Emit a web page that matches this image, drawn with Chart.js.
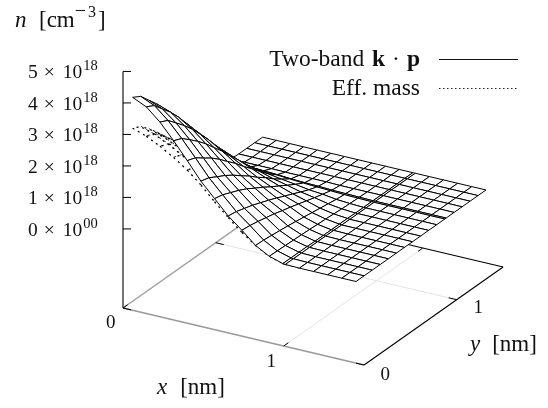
<!DOCTYPE html>
<html>
<head>
<meta charset="utf-8">
<style>
  body { margin: 0; background: #fff; }
  canvas { display: block; }
</style>
<script src="https://cdn.jsdelivr.net/npm/chart.js@4"></script>
</head>
<body>
<canvas id="myChart" width="548" height="408"></canvas>
<script>
// grid lines of the surface, in nm (doubled at the 1 nm interface)
const xNodes = [0.06, 0.145, 0.23, 0.315, 0.40, 0.485, 0.57, 0.655, 0.74, 0.825, 0.91, 0.995, 1.01, 1.098, 1.186, 1.274, 1.362, 1.45];
const yNodes = [0, 0.087, 0.174, 0.261, 0.348, 0.435, 0.522, 0.609, 0.696, 0.783, 0.87, 0.957, 0.972, 1.058, 1.144, 1.23, 1.316, 1.402];

// n in units of 1e18, one row per yNodes entry
const nTwoBand = [
  [4.25, 4.05, 3.67, 3.18, 2.65, 2.10, 1.65, 1.20, 0.85, 0.47, 0.23, 0.10, 0.09, 0.08, 0.08, 0.08, 0.08, 0.08],
  [4.10, 3.91, 3.54, 3.07, 2.56, 2.03, 1.59, 1.16, 0.82, 0.46, 0.22, 0.10, 0.09, 0.08, 0.08, 0.08, 0.08, 0.08],
  [3.80, 3.62, 3.28, 2.85, 2.37, 1.88, 1.48, 1.08, 0.77, 0.43, 0.21, 0.10, 0.09, 0.08, 0.08, 0.08, 0.08, 0.08],
  [3.50, 3.34, 3.02, 2.62, 2.19, 1.74, 1.37, 1.00, 0.71, 0.40, 0.20, 0.10, 0.09, 0.08, 0.08, 0.08, 0.08, 0.08],
  [3.15, 3.00, 2.72, 2.36, 1.97, 1.57, 1.24, 0.90, 0.65, 0.37, 0.19, 0.09, 0.09, 0.08, 0.08, 0.08, 0.08, 0.08],
  [2.75, 2.62, 2.38, 2.06, 1.72, 1.37, 1.08, 0.80, 0.57, 0.33, 0.18, 0.09, 0.09, 0.08, 0.08, 0.08, 0.08, 0.08],
  [2.35, 2.24, 2.03, 1.77, 1.48, 1.18, 0.93, 0.69, 0.50, 0.29, 0.16, 0.09, 0.09, 0.08, 0.08, 0.08, 0.08, 0.08],
  [1.90, 1.81, 1.65, 1.43, 1.20, 0.96, 0.76, 0.57, 0.42, 0.25, 0.15, 0.09, 0.08, 0.08, 0.08, 0.08, 0.08, 0.08],
  [1.50, 1.43, 1.30, 1.13, 0.95, 0.77, 0.61, 0.46, 0.34, 0.21, 0.13, 0.09, 0.08, 0.08, 0.08, 0.08, 0.08, 0.08],
  [1.05, 1.01, 0.92, 0.80, 0.68, 0.55, 0.45, 0.34, 0.26, 0.17, 0.11, 0.08, 0.08, 0.08, 0.08, 0.08, 0.08, 0.08],
  [0.65, 0.62, 0.57, 0.50, 0.43, 0.36, 0.30, 0.23, 0.19, 0.13, 0.10, 0.08, 0.08, 0.08, 0.08, 0.08, 0.08, 0.08],
  [0.30, 0.29, 0.27, 0.24, 0.22, 0.19, 0.16, 0.14, 0.12, 0.10, 0.09, 0.08, 0.08, 0.08, 0.08, 0.08, 0.08, 0.08],
  [0.25, 0.24, 0.23, 0.21, 0.19, 0.16, 0.14, 0.13, 0.11, 0.10, 0.09, 0.08, 0.08, 0.08, 0.08, 0.08, 0.08, 0.08],
  [0.10, 0.10, 0.10, 0.10, 0.09, 0.09, 0.09, 0.09, 0.08, 0.08, 0.08, 0.08, 0.08, 0.08, 0.08, 0.08, 0.08, 0.08],
  [0.08, 0.08, 0.08, 0.08, 0.08, 0.08, 0.08, 0.08, 0.08, 0.08, 0.08, 0.08, 0.08, 0.08, 0.08, 0.08, 0.08, 0.08],
  [0.08, 0.08, 0.08, 0.08, 0.08, 0.08, 0.08, 0.08, 0.08, 0.08, 0.08, 0.08, 0.08, 0.08, 0.08, 0.08, 0.08, 0.08],
  [0.08, 0.08, 0.08, 0.08, 0.08, 0.08, 0.08, 0.08, 0.08, 0.08, 0.08, 0.08, 0.08, 0.08, 0.08, 0.08, 0.08, 0.08],
  [0.08, 0.08, 0.08, 0.08, 0.08, 0.08, 0.08, 0.08, 0.08, 0.08, 0.08, 0.08, 0.08, 0.08, 0.08, 0.08, 0.08, 0.08],
];

// the effective mass surface only shows near the peak, the rest sits under the other one
const nEffMass = [
  [3.27, 3.12, 2.90, 2.65, 2.35, 1.98, 1.55, 1.15, 0.78, 0.47, 0.23, 0.10, 0.09, 0.08],
  [3.14, 3.00, 2.79, 2.55, 2.26, 1.90, 1.49, 1.11, 0.75, 0.45, 0.22, 0.10, 0.09, 0.08],
  [2.89, 2.76, 2.56, 2.34, 2.08, 1.75, 1.37, 1.02, 0.70, 0.42, 0.21, 0.10, 0.09, 0.08],
  [2.60, 2.48, 2.31, 2.11, 1.87, 1.58, 1.24, 0.93, 0.63, 0.39, 0.20, 0.10, 0.09, 0.08],
  [2.28, 2.18, 2.03, 1.85, 1.65, 1.39, 1.09, 0.82, 0.56, 0.35, 0.18, 0.09, 0.09, 0.08],
  [1.96, 1.87, 1.74, 1.60, 1.42, 1.20, 0.95, 0.71, 0.49, 0.31, 0.17, 0.09, 0.09, 0.08],
  [1.64, 1.57, 1.46, 1.34, 1.19, 1.01, 0.80, 0.60, 0.42, 0.27, 0.15, 0.09, 0.08, 0.08],
  [1.32, 1.27, 1.18, 1.08, 0.97, 0.82, 0.65, 0.50, 0.35, 0.23, 0.14, 0.09, 0.08, 0.08],
];

const zTicks = [0, 1, 2, 3, 4, 5];
const zTickExponents = ["00", "18", "18", "18", "18", "18"];
const xyTicks = [0, 1];
const xyMax = 1.5;
const zFloor = -2.51;
const zTop = 5;

// oblique view of gnuplot's splot, gives the position on the page scales
function project(x, y, z) {
  return {
    x: 123 + 160.7 * x + 92.7 * y,
    y: 308 + 38 * x - 65.3 * y - 31.5 * (z - zFloor),
  };
}

function lineSet(points, color, width) {
  return {
    data: points.map((p) => project(p[0], p[1], p[2])),
    borderColor: color,
    borderWidth: width,
    showLine: true,
    pointRadius: 0,
    fill: false,
    tension: 0,
    clip: false,
  };
}

// back to front so the white cells hide what lies behind them
function surfaceSets(rows, dash) {
  const sets = [];
  for (let j = rows.length - 2; j >= 0; j--) {
    for (let i = 0; i < rows[j].length - 1; i++) {
      const cell = [
        [xNodes[i], yNodes[j], rows[j][i]],
        [xNodes[i + 1], yNodes[j], rows[j][i + 1]],
        [xNodes[i + 1], yNodes[j + 1], rows[j + 1][i + 1]],
        [xNodes[i], yNodes[j + 1], rows[j + 1][i]],
        [xNodes[i], yNodes[j], rows[j][i]],
      ];
      const set = lineSet(cell, "#000", dash ? 1.3 : 1);
      set.fill = "shape";
      set.backgroundColor = "#fff";
      if (dash) set.borderDash = dash;
      sets.push(set);
    }
  }
  return sets;
}

const tickLen = 0.05;
const frameSets = [];
// light grid on the floor
xyTicks.slice(1).forEach((t) => {
  frameSets.push(lineSet([[t, 0, zFloor], [t, xyMax, zFloor]], "#e4e4e4", 1));
  frameSets.push(lineSet([[0, t, zFloor], [xyMax, t, zFloor]], "#e4e4e4", 1));
});
// floor outline, the two gray edges have the grid drawn over them
frameSets.push(lineSet([[0, 0, zFloor], [0, xyMax, zFloor]], "#a0a0a0", 1.5));
frameSets.push(lineSet([[0, 0, zFloor], [xyMax, 0, zFloor]], "#999", 1.5));
frameSets.push(lineSet([[xyMax, 0, zFloor], [xyMax, xyMax, zFloor]], "#000", 1.1));
frameSets.push(lineSet([[0, xyMax, zFloor], [xyMax, xyMax, zFloor]], "#000", 1.1));
// floor ticks
xyTicks.forEach((t) => {
  frameSets.push(lineSet([[t, 0, zFloor], [t, tickLen, zFloor]], "#000", 1));
  frameSets.push(lineSet([[t, xyMax, zFloor], [t, xyMax - tickLen, zFloor]], "#000", 1));
  frameSets.push(lineSet([[0, t, zFloor], [tickLen, t, zFloor]], "#000", 1));
  frameSets.push(lineSet([[xyMax, t, zFloor], [xyMax - tickLen, t, zFloor]], "#000", 1));
});
// n axis
frameSets.push(lineSet([[0, 0, zFloor], [0, 0, zTop]], "#000", 1.1));
zTicks.forEach((t) => {
  const a = project(0, 0, t);
  frameSets.push({
    data: [a, { x: a.x + 8, y: a.y }],
    borderColor: "#000",
    borderWidth: 1,
    showLine: true,
    pointRadius: 0,
    clip: false,
  });
});

const allSets = frameSets.concat(surfaceSets(nEffMass, [2, 4]), surfaceSets(nTwoBand, null));

const serif = '"Liberation Serif"';

function textRuns(ctx, x, y, runs) {
  let px = x;
  runs.forEach((r) => {
    ctx.font = (r.style || "") + " " + r.size + "px " + serif;
    ctx.fillText(r.text, px, y - (r.rise || 0));
    px += ctx.measureText(r.text).width + (r.gap || 0);
  });
}

function runsWidth(ctx, runs) {
  let w = 0;
  runs.forEach((r) => {
    ctx.font = (r.style || "") + " " + r.size + "px " + serif;
    w += ctx.measureText(r.text).width + (r.gap || 0);
  });
  return w;
}

const textPlugin = {
  id: "labels",
  afterDraw(chart) {
    const ctx = chart.ctx;
    ctx.save();
    ctx.fillStyle = "#111";
    ctx.textBaseline = "alphabetic";
    ctx.textAlign = "left";

    zTicks.forEach((t, i) => {
      const p = project(0, 0, t);
      textRuns(ctx, 28, p.y + 7, [
        { text: String(t), size: 19.5, gap: 6 },
        { text: "×", size: 19.5, gap: 8 },
        { text: "10", size: 19.5, gap: 1 },
        { text: zTickExponents[i], size: 14.5, rise: 8 },
      ]);
    });

    textRuns(ctx, 15, 27, [
      { text: "n", size: 23, style: "italic", gap: 12.5 },
      { text: "[cm", size: 23 },
      { text: "−", size: 20, rise: 10, gap: 2 },
      { text: "3", size: 16, rise: 10, gap: 2 },
      { text: "]", size: 23 },
    ]);

    textRuns(ctx, 106, 328, [{ text: "0", size: 19 }]);
    textRuns(ctx, 266.5, 366.5, [{ text: "1", size: 19 }]);
    textRuns(ctx, 380.5, 379.5, [{ text: "0", size: 19 }]);
    textRuns(ctx, 473.5, 312.5, [{ text: "1", size: 19 }]);

    textRuns(ctx, 157, 394, [
      { text: "x", size: 23, style: "italic", gap: 13 },
      { text: "[nm]", size: 23 },
    ]);
    textRuns(ctx, 470, 351, [
      { text: "y", size: 23, style: "italic", gap: 12 },
      { text: "[nm]", size: 23 },
    ]);

    // key
    const key1 = [
      { text: "Two-band ", size: 23.5, gap: 2 },
      { text: "k", size: 23.5, style: "bold", gap: 7 },
      { text: "·", size: 23.5, gap: 7 },
      { text: "p", size: 23.5, style: "bold" },
    ];
    textRuns(ctx, 420 - runsWidth(ctx, key1), 66, key1);
    const key2 = [{ text: "Eff. mass", size: 23.5 }];
    textRuns(ctx, 420 - runsWidth(ctx, key2), 95, key2);

    ctx.strokeStyle = "#111";
    ctx.lineWidth = 1;
    ctx.beginPath();
    ctx.moveTo(439, 59.5);
    ctx.lineTo(518, 59.5);
    ctx.stroke();
    ctx.setLineDash([1.5, 2.5]);
    ctx.strokeStyle = "#222";
    ctx.beginPath();
    ctx.moveTo(439, 88.5);
    ctx.lineTo(517, 88.5);
    ctx.stroke();
    ctx.restore();
  },
};

new Chart(document.querySelector("#myChart"), {
  type: "scatter",
  data: { datasets: allSets.reverse() },
  options: {
    responsive: false,
    animation: false,
    events: [],
    layout: { padding: 0 },
    plugins: { legend: { display: false }, tooltip: { enabled: false } },
    scales: {
      x: { type: "linear", min: 0, max: 548, display: false },
      y: { type: "linear", min: 0, max: 408, reverse: true, display: false },
    },
  },
  plugins: [textPlugin],
});
</script>
</body>
</html>
